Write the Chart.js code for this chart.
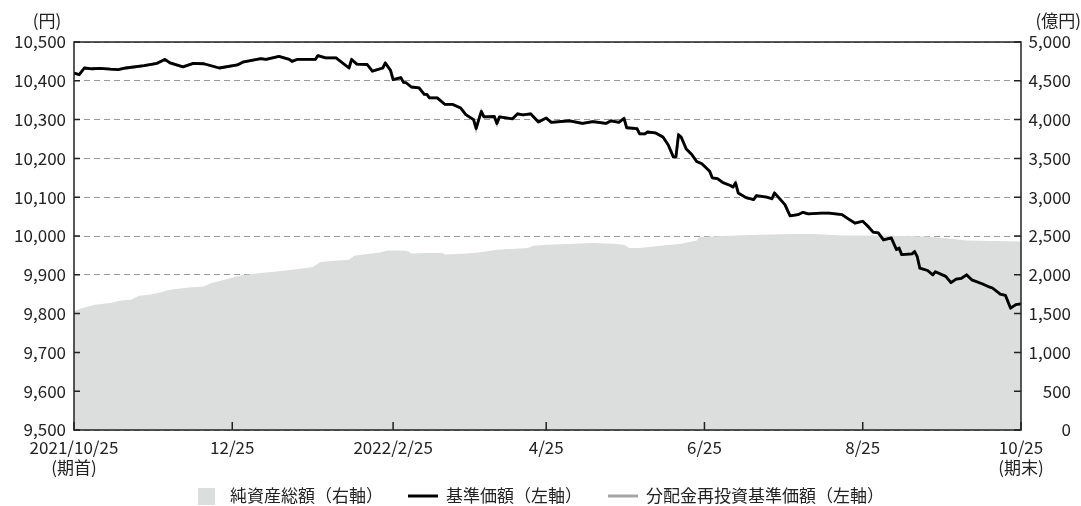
<!DOCTYPE html>
<html>
<head>
<meta charset="utf-8">
<script src="https://cdn.jsdelivr.net/npm/chart.js@4/dist/chart.umd.min.js"></script>
<style>
  body { margin: 0; background: #ffffff; }
  #wrap { width: 1081px; height: 506px; position: relative; }
</style>
</head>
<body>
<div id="wrap"><canvas id="fundChart"></canvas></div>
<script>
// Days counted from 2021/10/25 (period start)
var tickDays = [0, 61, 123, 182, 243, 304, 365];

var tickLabels = [
  ['2021/10/25', '(期首)'],
  ['12/25'],
  ['2022/2/25'],
  ['4/25'],
  ['6/25'],
  ['8/25'],
  ['10/25', '(期末)']
];

// 基準価額 (left axis, yen)
var navDays = [0, 2, 4, 7, 10, 14, 17, 20, 27, 32, 35, 37, 42, 46, 50, 56, 63, 65, 72, 74,
  79, 83, 84, 86, 93, 94, 97, 101, 106, 107, 109, 113, 115, 119, 120, 122, 123, 126, 127, 128,
  130, 133, 135, 136, 137, 140, 143, 146, 149, 151, 154, 155, 156, 157, 158, 162, 163, 164, 169, 171,
  173, 176, 179, 182, 184, 191, 196, 200, 205, 207, 210, 212, 213, 217, 218, 220, 221, 224, 227, 229,
  231, 232, 233, 234, 236, 238, 240, 242, 245, 246, 248, 250, 253, 254, 255, 256, 259, 262, 263, 267,
  269, 270, 274, 276, 279, 281, 283, 288, 291, 296, 298, 301, 304, 306, 308, 310, 312, 315, 317, 318,
  319, 323, 324, 325, 326, 329, 331, 332, 336, 338, 340, 342, 344, 346, 350, 353, 354, 357, 359, 361,
  363, 365];

var navValues = [10420, 10416, 10433, 10431, 10432, 10430, 10429, 10433, 10439, 10445, 10455, 10446, 10436, 10445, 10444, 10433, 10441, 10448, 10457, 10455,
  10463, 10455, 10450, 10455, 10455, 10465, 10459, 10459, 10433, 10455, 10443, 10442, 10425, 10433, 10446, 10427, 10403, 10408, 10396, 10395,
  10384, 10382, 10365, 10365, 10356, 10356, 10339, 10339, 10330, 10313, 10300, 10277, 10300, 10321, 10307, 10308, 10290, 10307, 10302, 10315,
  10312, 10315, 10294, 10304, 10293, 10297, 10290, 10295, 10290, 10297, 10293, 10303, 10279, 10277, 10263, 10263, 10268, 10266, 10255, 10235,
  10204, 10204, 10261, 10255, 10224, 10211, 10192, 10186, 10167, 10150, 10148, 10138, 10130, 10126, 10137, 10111, 10099, 10094, 10104, 10100,
  10096, 10111, 10081, 10052, 10055, 10061, 10057, 10059, 10059, 10055, 10046, 10033, 10038, 10025, 10010, 10008, 9990, 9995, 9965, 9969,
  9952, 9954, 9960, 9947, 9917, 9911, 9900, 9908, 9896, 9880, 9889, 9891, 9900, 9887, 9877, 9868, 9866, 9850, 9847, 9814,
  9823, 9825];

// 分配金再投資基準価額 (left axis, no distributions so same as 基準価額)
var reinvestValues = navValues.slice();

// 純資産総額 (right axis, 億円)
var assetDays = [0, 3, 8, 14, 18, 22, 25, 29, 33, 37, 44, 50, 53, 57, 64, 72, 78, 84, 92, 95,
  100, 106, 108, 113, 118, 121, 127, 129, 130, 136, 142, 143, 150, 156, 163, 175, 177, 182, 200, 208,
  212, 214, 218, 226, 234, 240, 241, 252, 264, 277, 285, 296, 310, 329, 335, 344, 365];

var assetValues = [1530, 1570, 1613, 1635, 1669, 1677, 1729, 1742, 1772, 1806, 1836, 1849, 1893, 1927, 1991, 2022, 2043, 2065, 2099, 2164,
  2181, 2194, 2245, 2267, 2288, 2314, 2314, 2301, 2275, 2280, 2280, 2262, 2271, 2288, 2323, 2345, 2374, 2387, 2409, 2400,
  2387, 2345, 2345, 2374, 2400, 2443, 2486, 2503, 2516, 2525, 2525, 2507, 2507, 2494, 2474, 2443, 2430];

var seriesNames = ['純資産総額（右軸）', '基準価額（左軸）', '分配金再投資基準価額（左軸）'];

var fontFamily = '"Noto Sans CJK JP", "Noto Sans", sans-serif';

var areaColor = '#dcdddd';

var reinvestColor = '#a6a6a6';

function toPoints(days, values)
{
  var points = [];

  for (var i = 0; i < days.length; i++)
  {
    points.push({ x: days[i], y: values[i] });
  }

  return points;
}

function formatNumber(v)
{
  return v.toLocaleString('en-US');
}

// Frame, inward tick marks, unit labels and legend
var decorPlugin = {

  id: 'decor',

  afterDraw: function (chart) {

    var ctx = chart.ctx;

    var area = chart.chartArea;

    var yLeft = chart.scales.y;

    var yRight = chart.scales.y2;

    var xScale = chart.scales.x;

    ctx.save();

    ctx.strokeStyle = '#222222';

    ctx.lineWidth = 1.5;

    ctx.strokeRect(area.left, area.top, area.right - area.left, area.bottom - area.top);

    ctx.beginPath();

    yLeft.ticks.forEach(function (t) {
      var py = yLeft.getPixelForValue(t.value);
      ctx.moveTo(area.left, py);
      ctx.lineTo(area.left + 6, py);
    });

    yRight.ticks.forEach(function (t) {
      var py = yRight.getPixelForValue(t.value);
      ctx.moveTo(area.right, py);
      ctx.lineTo(area.right - 7, py);
    });

    xScale.ticks.forEach(function (t) {
      var px = xScale.getPixelForValue(t.value);
      ctx.moveTo(px, area.bottom);
      ctx.lineTo(px, area.bottom - 8);
    });

    ctx.stroke();

    // Unit labels
    ctx.fillStyle = '#222222';

    ctx.font = '17px ' + fontFamily;

    ctx.textBaseline = 'middle';

    ctx.textAlign = 'center';

    ctx.fillText('(円)', 47, 21);

    ctx.textAlign = 'right';

    ctx.fillText('(億円)', 1081, 21);

    // Legend
    ctx.textAlign = 'left';

    var ly = 496;

    var w0 = ctx.measureText(seriesNames[0]).width;

    var w1 = ctx.measureText(seriesNames[1]).width;

    var w2 = ctx.measureText(seriesNames[2]).width;

    var total = 17 + 15 + w0 + 25 + 30 + 8 + w1 + 26 + 30 + 8 + w2;

    var lx = Math.round((chart.width - total) / 2);

    ctx.fillStyle = areaColor;

    ctx.fillRect(lx, ly - 8, 17, 17);

    lx += 17 + 15;

    ctx.fillStyle = '#222222';

    ctx.fillText(seriesNames[0], lx, ly);

    lx += w0 + 25;

    ctx.strokeStyle = '#000000';

    ctx.lineWidth = 3;

    ctx.beginPath();

    ctx.moveTo(lx, ly);

    ctx.lineTo(lx + 30, ly);

    ctx.stroke();

    lx += 30 + 8;

    ctx.fillText(seriesNames[1], lx, ly);

    lx += w1 + 26;

    ctx.strokeStyle = reinvestColor;

    ctx.beginPath();

    ctx.moveTo(lx, ly);

    ctx.lineTo(lx + 30, ly);

    ctx.stroke();

    lx += 30 + 8;

    ctx.fillText(seriesNames[2], lx, ly);

    ctx.restore();
  }
};

var fundChart = new Chart(document.getElementById('fundChart'), {

  type: 'line',

  data: {
    datasets: [
      {
        label: seriesNames[1],

        data: toPoints(navDays, navValues),

        yAxisID: 'y',

        borderColor: '#000000',

        borderWidth: 2.8,

        borderJoinStyle: 'round',

        pointRadius: 0,

        tension: 0,

        order: 1
      },
      {
        label: seriesNames[2],

        data: toPoints(navDays, reinvestValues),

        yAxisID: 'y',

        borderColor: reinvestColor,

        borderWidth: 2.8,

        pointRadius: 0,

        tension: 0,

        order: 2
      },
      {
        label: seriesNames[0],

        data: toPoints(assetDays, assetValues),

        yAxisID: 'y2',

        borderWidth: 0,

        borderColor: areaColor,

        backgroundColor: areaColor,

        fill: 'origin',

        pointRadius: 0,

        tension: 0,

        order: 3
      }
    ]
  },

  options: {
    responsive: true,

    maintainAspectRatio: false,

    animation: false,

    layout: {
      padding: { top: 42, right: 10, bottom: 0, left: 0 }
    },

    plugins: {
      legend: { display: false },

      tooltip: { enabled: false }
    },

    scales: {
      x: {
        type: 'linear',

        min: 0,

        max: 365,

        afterBuildTicks: function (scale) {
          scale.ticks = tickDays.map(function (d) { return { value: d }; });
        },

        afterFit: function (scale) {
          scale.height = 76;
        },

        grid: { display: false, drawTicks: false },

        border: { display: false },

        ticks: {
          autoSkip: false,

          maxRotation: 0,

          padding: 8,

          color: '#222222',

          font: { family: fontFamily, size: 17, lineHeight: 1.15 },

          callback: function (value) {
            var i = tickDays.indexOf(value);
            return i >= 0 ? tickLabels[i] : '';
          }
        }
      },

      y: {
        position: 'left',

        min: 9500,

        max: 10500,

        afterFit: function (scale) {
          scale.width = 74;
        },

        grid: { color: '#9a9a9a', lineWidth: 1, drawTicks: false },

        border: { display: false, dash: [6, 4] },

        ticks: {
          stepSize: 100,

          padding: 8,

          color: '#222222',

          font: { family: fontFamily, size: 17 },

          callback: function (value) { return formatNumber(value); }
        }
      },

      y2: {
        position: 'right',

        min: 0,

        max: 5000,

        afterFit: function (scale) {
          scale.width = 50;
        },

        grid: { display: false, drawTicks: false },

        border: { display: false },

        ticks: {
          stepSize: 500,

          crossAlign: 'far',

          color: '#222222',

          font: { family: fontFamily, size: 17 },

          callback: function (value) { return formatNumber(value); }
        }
      }
    }
  },

  plugins: [decorPlugin]
});
</script>
</body>
</html>
